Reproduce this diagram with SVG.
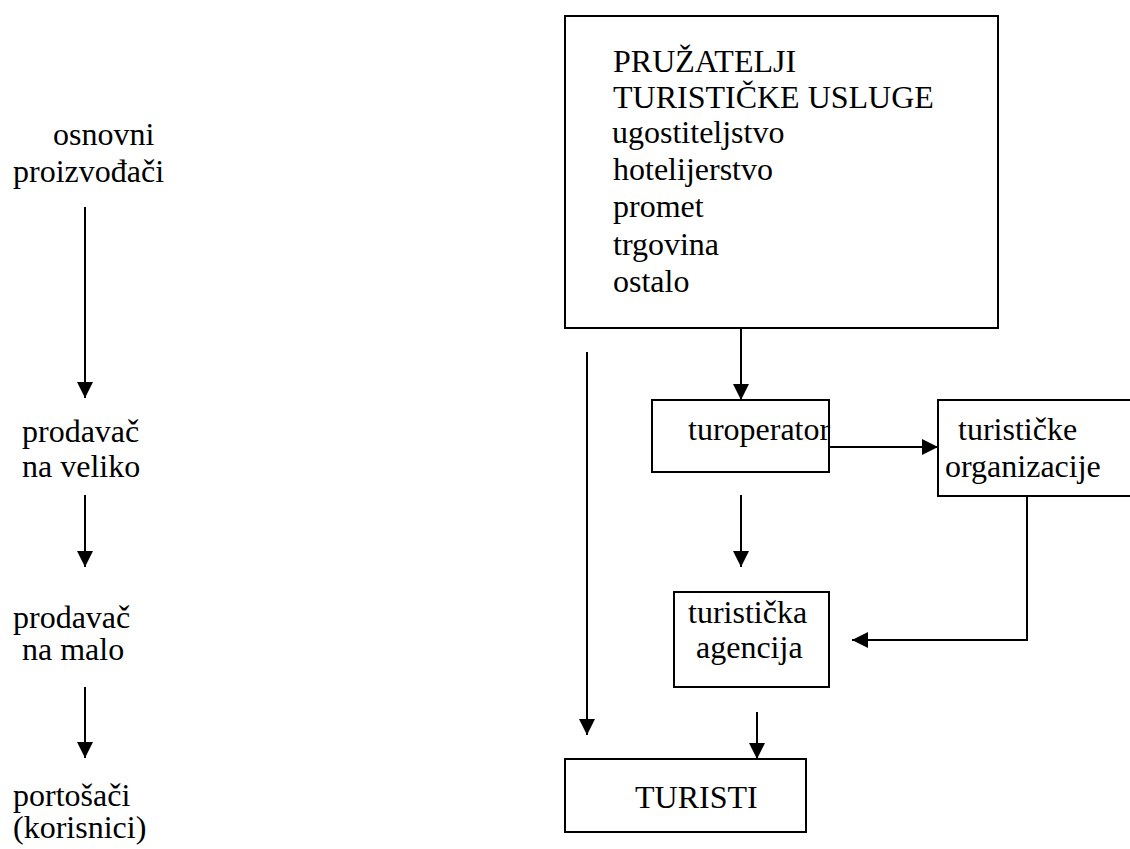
<svg xmlns="http://www.w3.org/2000/svg" width="1130" height="849" viewBox="0 0 1130 849">
<defs>
<marker id="ah" viewBox="0 0 16 16" refX="16" refY="8" markerWidth="16" markerHeight="16" markerUnits="userSpaceOnUse" orient="auto">
<path d="M0,0 L16,8 L0,16 Z" fill="#000"/>
</marker>
</defs>
<rect width="1130" height="849" fill="#fff"/>
<g id="connectors" fill="none" stroke="#000" stroke-width="2">
<line x1="85" y1="207" x2="85" y2="398" marker-end="url(#ah)"/>
<line x1="85" y1="495" x2="85" y2="567" marker-end="url(#ah)"/>
<line x1="85" y1="687" x2="85" y2="758" marker-end="url(#ah)"/>
<line x1="741" y1="328" x2="741" y2="400" marker-end="url(#ah)"/>
<line x1="829" y1="447" x2="938" y2="447" marker-end="url(#ah)"/>
<polyline points="1027,496 1027,640 852,640" marker-end="url(#ah)"/>
<line x1="741" y1="495" x2="741" y2="567" marker-end="url(#ah)"/>
<line x1="587" y1="352" x2="587" y2="735" marker-end="url(#ah)"/>
<line x1="757" y1="712" x2="757" y2="759" marker-end="url(#ah)"/>
</g>
<g id="osnovni"><text font-family="Liberation Serif" font-size="32" x="53" y="145">osnovni</text><text font-family="Liberation Serif" font-size="32" x="13" y="182">proizvođači</text></g>
<g id="veliko"><text font-family="Liberation Serif" font-size="32" x="22" y="442">prodavač</text><text font-family="Liberation Serif" font-size="32" x="22" y="477">na veliko</text></g>
<g id="malo"><text font-family="Liberation Serif" font-size="32" x="13" y="628">prodavač</text><text font-family="Liberation Serif" font-size="32" x="22" y="660">na malo</text></g>
<g id="potrosaci"><text font-family="Liberation Serif" font-size="32" x="13" y="806">portošači</text><text font-family="Liberation Serif" font-size="32" x="13" y="838">(korisnici)</text></g>
<g id="pruzatelji">
<rect x="565" y="16" width="433" height="312" fill="#fff" stroke="#000" stroke-width="2"/>
<text font-family="Liberation Serif" font-size="32" x="613" y="72">PRUŽATELJI</text>
<text font-family="Liberation Serif" font-size="32" x="613" y="108">TURISTIČKE USLUGE</text>
<text font-family="Liberation Serif" font-size="32" x="612" y="143">ugostiteljstvo</text>
<text font-family="Liberation Serif" font-size="32" x="613" y="180">hotelijerstvo</text>
<text font-family="Liberation Serif" font-size="32" x="613" y="217">promet</text>
<text font-family="Liberation Serif" font-size="32" x="613" y="255">trgovina</text>
<text font-family="Liberation Serif" font-size="32" x="613" y="292">ostalo</text>
</g>
<g id="turoperator"><rect x="652" y="400" width="177" height="72" fill="#fff" stroke="#000" stroke-width="2"/><text font-family="Liberation Serif" font-size="32" x="688" y="440">turoperator</text></g>
<g id="organizacije"><rect x="938" y="400" width="200" height="96" fill="#fff" stroke="#000" stroke-width="2"/><text font-family="Liberation Serif" font-size="32" x="958" y="440">turističke</text><text font-family="Liberation Serif" font-size="32" x="945" y="477">organizacije</text></g>
<g id="agencija"><rect x="674" y="592" width="155" height="95" fill="#fff" stroke="#000" stroke-width="2"/><text font-family="Liberation Serif" font-size="32" x="688" y="623">turistička</text><text font-family="Liberation Serif" font-size="32" x="696" y="658">agencija</text></g>
<g id="turisti"><rect x="565" y="759" width="241" height="73" fill="#fff" stroke="#000" stroke-width="2"/><text font-family="Liberation Serif" font-size="32" x="635" y="808">TURISTI</text></g>
</svg>
